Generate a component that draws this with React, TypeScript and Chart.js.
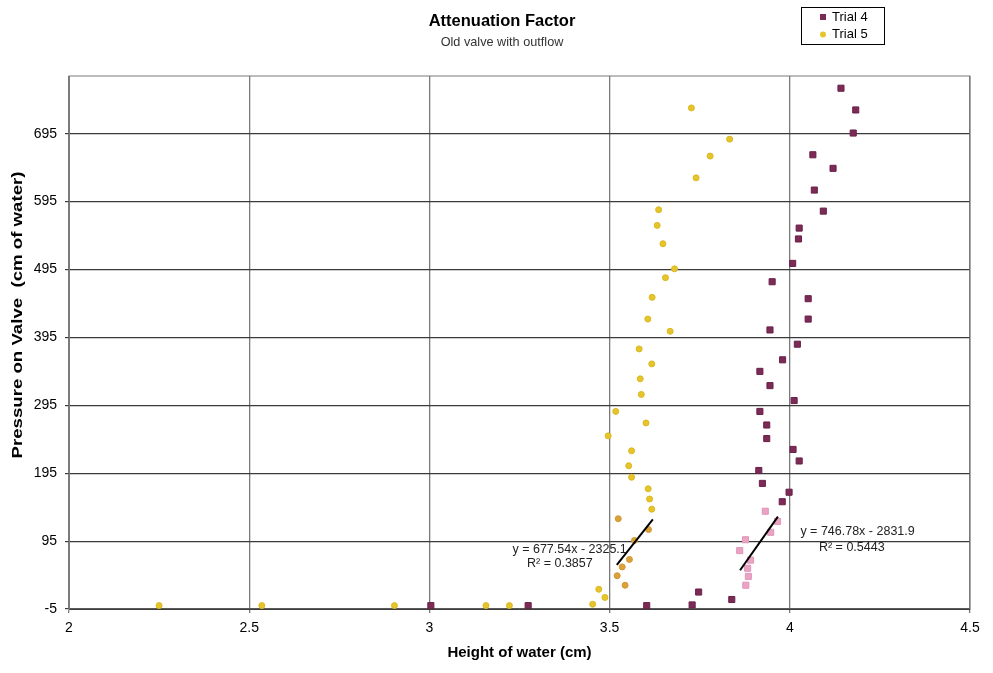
import { useEffect, useRef } from 'react'
import { Chart, ChartConfiguration, registerables } from 'chart.js'

Chart.register(...registerables)

const FONT = '"Liberation Sans", Arial, sans-serif'

const TITLE = 'Attenuation Factor'
const SUBTITLE = 'Old valve with outflow'
const X_TITLE = 'Height of water (cm)'
const Y_TITLE = 'Pressure on Valve  (cm of water)'

const Y_TICKS = [-5, 95, 195, 295, 395, 495, 595, 695]

// Trial 4 (maroon squares)
const trial4X = [
  4.142, 4.183, 4.176, 4.064, 4.12, 4.068, 4.093, 4.026, 4.024, 4.008, 3.951, 4.051, 4.051, 3.945,
  4.021, 3.98, 3.917, 3.945, 4.012, 3.917, 3.936, 3.936, 4.009, 4.026, 3.914, 3.924, 3.998, 3.979,
  3.839, 3.747, 3.729, 3.603, 3.274, 3.004,
]
const trial4Y = [
  762, 730, 696, 664, 644, 612, 581, 556, 540, 504, 477, 452, 422, 406, 385, 362, 345, 324, 302,
  286, 266, 246, 230, 213, 199, 180, 167, 153, 9, 20, 1, 0, 0, 0,
]

// Trial 4 points used for the fit (pink squares)
const trial4FitX = [3.932, 3.966, 3.947, 3.877, 3.861, 3.891, 3.883, 3.885, 3.878]
const trial4FitY = [139, 124, 108, 97, 81, 67, 55, 43, 30]

// Trial 5 (yellow circles)
const trial5X = [
  3.727, 3.833, 3.779, 3.74, 3.636, 3.632, 3.648, 3.68, 3.655, 3.618, 3.606, 3.668, 3.582, 3.617,
  3.585, 3.588, 3.517, 3.601, 3.496, 3.561, 3.553, 3.561, 3.607, 3.611, 3.617, 3.47, 3.487, 3.453,
  3.222, 3.157, 2.903, 2.535, 2.25,
]
const trial5Y = [
  733, 687, 662, 630, 583, 560, 533, 496, 483, 454, 422, 404, 378, 356, 334, 311, 286, 269, 250,
  228, 206, 189, 172, 157, 142, 24, 12, 2, 0, 0, 0, 0, 0,
]

// Trial 5 points used for the fit (orange circles)
const trial5FitX = [3.524, 3.608, 3.569, 3.555, 3.535, 3.521, 3.543]
const trial5FitY = [128, 112, 96, 68, 57, 44, 30]

// trendline ends
const trend5X = [3.52, 3.62]
const trend5Y = [60, 127]
const trend4X = [3.862, 3.967]
const trend4Y = [52, 131]

const trend5Label = ['y = 677.54x - 2325.1', 'R² = 0.3857']
const trend4Label = ['y = 746.78x - 2831.9', 'R² = 0.5443']
// label anchors in data units [x, y] per line
const trend5LabelPos = [
  [3.389, 83],
  [3.362, 61.5],
]
const trend4LabelPos = [
  [4.188, 109.5],
  [4.172, 85.4],
]

const MAROON = '#7b2b55'
const PINK = '#eaa3c4'
const YELLOW = '#e6c42c'
const ORANGE = '#dba23a'

const pts = (xs: number[], ys: number[]) => xs.map((x, i) => ({ x, y: ys[i] }))

const decorPlugin = {
  id: 'decor',
  beforeDatasetsDraw(chart: Chart) {
    const { ctx, chartArea } = chart
    ctx.save()
    ctx.strokeStyle = '#7a7a7a'
    ctx.lineWidth = 1
    ctx.strokeRect(chartArea.left, chartArea.top, chartArea.right - chartArea.left, chartArea.bottom - chartArea.top)
    ctx.restore()
  },
  afterDraw(chart: Chart) {
    const { ctx } = chart
    const x = chart.scales.x
    const y = chart.scales.y
    ctx.save()
    ctx.textAlign = 'center'
    ctx.textBaseline = 'middle'
    ctx.fillStyle = '#000'
    ctx.font = `bold 16.5px ${FONT}`
    ctx.fillText(TITLE, 502, 21)
    ctx.fillStyle = '#333'
    ctx.font = `12.7px ${FONT}`
    ctx.fillText(SUBTITLE, 502, 42)

    // y axis title, stretched along its length like the original
    ctx.save()
    ctx.fillStyle = '#000'
    ctx.font = `bold 15px ${FONT}`
    const w = ctx.measureText(Y_TITLE).width
    ctx.translate(17.5, 315)
    ctx.rotate(-Math.PI / 2)
    ctx.scale(287 / w, 1)
    ctx.fillText(Y_TITLE, 0, 0)
    ctx.restore()

    // trendline labels
    ctx.fillStyle = '#222'
    ctx.font = `12.5px ${FONT}`
    const drawLabel = (lines: string[], pos: number[][]) => {
      lines.forEach((t, i) => {
        ctx.fillText(t, x.getPixelForValue(pos[i][0]), y.getPixelForValue(pos[i][1]))
      })
    }
    drawLabel(trend5Label, trend5LabelPos)
    drawLabel(trend4Label, trend4LabelPos)

    // legend box
    ctx.fillStyle = '#fff'
    ctx.fillRect(801, 7, 83, 37)
    ctx.strokeStyle = '#000'
    ctx.lineWidth = 1
    ctx.strokeRect(801.5, 7.5, 83, 37)
    const legendItems = [
      { label: chart.data.datasets[2].label as string, color: MAROON, square: true },
      { label: chart.data.datasets[4].label as string, color: YELLOW, square: false },
    ]
    ctx.textAlign = 'left'
    ctx.font = `13px ${FONT}`
    legendItems.forEach((item, i) => {
      const cy = 17 + i * 17.5
      ctx.fillStyle = item.color
      if (item.square) {
        ctx.fillRect(820, cy - 3, 6, 6)
      } else {
        ctx.beginPath()
        ctx.arc(823, cy, 3, 0, Math.PI * 2)
        ctx.fill()
      }
      ctx.fillStyle = '#000'
      ctx.fillText(item.label, 832, cy)
    })
    ctx.restore()
  },
}

export default function App() {
  const canvasRef = useRef<HTMLCanvasElement>(null)
  const chartRef = useRef<Chart>()

  useEffect(() => {
    if (!canvasRef.current) return
    const ctx = canvasRef.current.getContext('2d')
    if (!ctx) return

    const config: ChartConfiguration = {
      type: 'scatter',
      data: {
        datasets: [
          {
            label: 'Trend 5',
            data: pts(trend5X, trend5Y),
            showLine: true,
            borderColor: '#000',
            borderWidth: 2,
            pointRadius: 0,
          },
          {
            label: 'Trend 4',
            data: pts(trend4X, trend4Y),
            showLine: true,
            borderColor: '#000',
            borderWidth: 2,
            pointRadius: 0,
          },
          {
            label: 'Trial 4',
            data: pts(trial4X, trial4Y),
            pointStyle: 'rect',
            pointRadius: 4.3,
            backgroundColor: MAROON,
            borderColor: '#6a2048',
            borderWidth: 1,
          },
          {
            label: 'Trial 4 fit',
            data: pts(trial4FitX, trial4FitY),
            pointStyle: 'rect',
            pointRadius: 4.3,
            backgroundColor: PINK,
            borderColor: '#e196b9',
            borderWidth: 1,
          },
          {
            label: 'Trial 5',
            data: pts(trial5X, trial5Y),
            pointStyle: 'circle',
            pointRadius: 3,
            backgroundColor: YELLOW,
            borderColor: '#dbb821',
            borderWidth: 1,
          },
          {
            label: 'Trial 5 fit',
            data: pts(trial5FitX, trial5FitY),
            pointStyle: 'circle',
            pointRadius: 3,
            backgroundColor: ORANGE,
            borderColor: '#d29630',
            borderWidth: 1,
          },
        ],
      },
      options: {
        animation: false,
        responsive: true,
        maintainAspectRatio: false,
        layout: { padding: { top: 76, right: 23, bottom: 0, left: 0 } },
        plugins: {
          legend: { display: false },
          tooltip: { enabled: false },
        },
        scales: {
          x: {
            type: 'linear',
            min: 2,
            max: 4.5,
            afterFit: (scale) => {
              scale.height = 64
            },
            ticks: {
              stepSize: 0.5,
              color: '#000',
              padding: 7,
              font: { family: FONT, size: 14 },
              callback: (v) => `${v}`,
            },
            grid: { color: '#7a7a7a', lineWidth: 1.3, tickLength: 4 },
            border: { color: '#000', width: 1 },
            title: {
              display: true,
              text: X_TITLE,
              color: '#000',
              font: { family: FONT, size: 15, weight: 'bold' },
              padding: { top: 4, bottom: 11 },
            },
          },
          y: {
            type: 'linear',
            min: -5,
            max: 780,
            afterFit: (scale) => {
              scale.width = 69
            },
            afterBuildTicks: (scale) => {
              scale.ticks = Y_TICKS.map((value) => ({ value }))
            },
            ticks: {
              color: '#000',
              padding: 8,
              font: { family: FONT, size: 14 },
            },
            grid: { color: '#3a3a3a', lineWidth: 1.2, tickLength: 4 },
            border: { color: '#7a7a7a', width: 1 },
            title: { display: false, text: Y_TITLE },
          },
        },
      },
      plugins: [decorPlugin],
    }

    if (chartRef.current) chartRef.current.destroy()
    chartRef.current = new Chart(ctx, config)

    return () => {
      if (chartRef.current) chartRef.current.destroy()
    }
  }, [])

  return (
    <div style={{ position: 'fixed', left: 0, top: 0, width: 993, height: 673, background: '#fff' }}>
      <canvas ref={canvasRef} />
    </div>
  )
}
